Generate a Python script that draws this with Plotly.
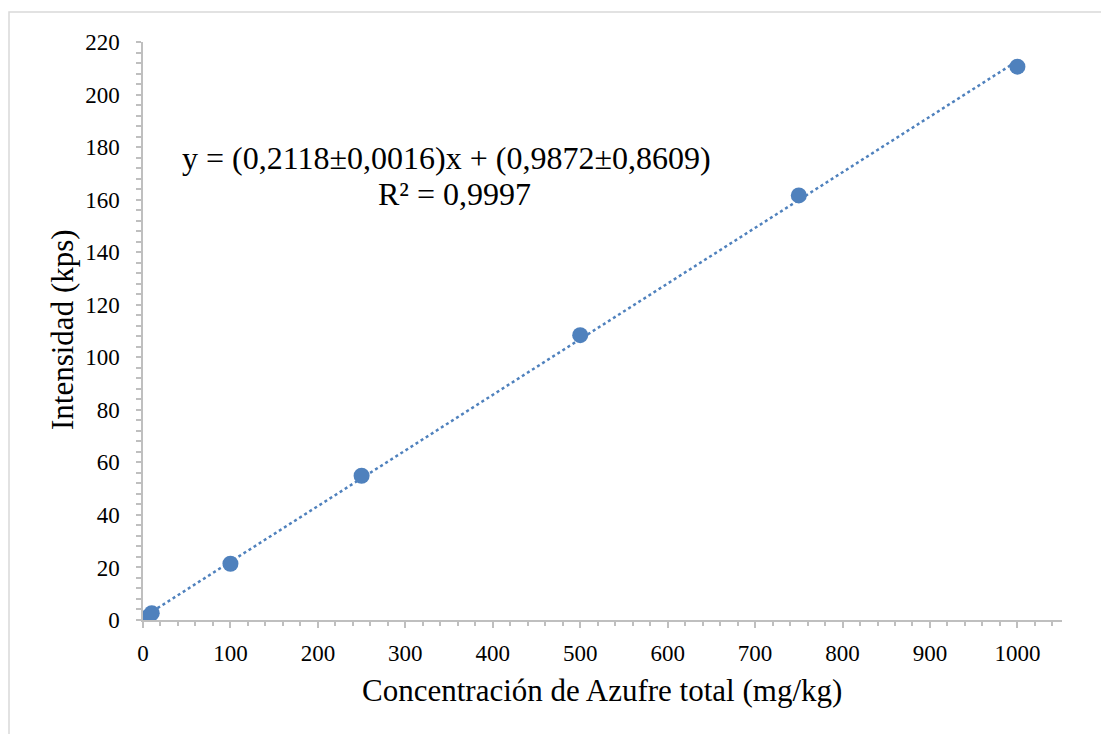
import plotly.graph_objects as go

# Data
conc = [5, 10, 100, 250, 500, 750, 1000]          # mg/kg
intensity = [1.0, 2.6, 21.4, 54.9, 108.4, 161.6, 210.6]  # kps

slope = 0.2118
intercept = 0.9872
eq_line1 = "y = (0,2118±0,0016)x + (0,9872±0,8609)"
eq_line2 = "R² = 0,9997"
x_title = "Concentración de Azufre total (mg/kg)"
y_title = "Intensidad (kps)"

x_ticks = [0, 100, 200, 300, 400, 500, 600, 700, 800, 900, 1000]
y_ticks = [0, 20, 40, 60, 80, 100, 120, 140, 160, 180, 200, 220]

BLUE = "#4F81BD"
AXIS = "#BFBFBF"
FONT = "Liberation Serif"

W, H = 1101, 734
ml, mr, mt, mb = 143, 39, 42, 114
pw, ph = W - ml - mr, H - mt - mb

def px_x(p):
    return (p - ml) / pw

def px_y(p):
    return (H - mb - p) / ph

trend_x = [min(conc), max(conc)]
trend_y = [slope * v + intercept for v in trend_x]

fig = go.Figure()
fig.add_trace(go.Scatter(
    x=trend_x, y=trend_y, mode="lines",
    line=dict(color=BLUE, width=2.5, dash="dot"),
    hoverinfo="skip", showlegend=False,
))
fig.add_trace(go.Scatter(
    x=conc, y=intensity, mode="markers",
    marker=dict(color=BLUE, size=16, line=dict(width=0)),
    showlegend=False,
))

tickfont = dict(size=23, family=FONT, color="black")

fig.update_layout(
    width=W, height=H,
    margin=dict(l=ml, r=mr, t=mt, b=mb, pad=0),
    paper_bgcolor="white", plot_bgcolor="white",
    font=dict(family=FONT, color="black", size=23),
    xaxis=dict(
        range=[0, 1051], tickmode="array", tickvals=x_ticks,
        ticktext=[str(v) for v in x_ticks],
        showgrid=False, zeroline=False,
        showline=True, linecolor=AXIS, linewidth=1.5,
        ticks="outside", ticklen=6, tickcolor=AXIS, tickwidth=1.5,
        minor=dict(dtick=20, ticks="outside", ticklen=4, tickcolor=AXIS, tickwidth=1.5, showgrid=False),
        tickfont=tickfont,
        ticklabelstandoff=6,
    ),
    yaxis=dict(
        range=[0, 220], tickmode="array", tickvals=y_ticks,
        ticktext=[str(v) for v in y_ticks],
        showgrid=False, zeroline=False,
        showline=True, linecolor=AXIS, linewidth=1.5,
        ticks="outside", ticklen=5, tickcolor=AXIS, tickwidth=1.5,
        minor=dict(dtick=4, ticks="outside", ticklen=5, tickcolor=AXIS, tickwidth=1.5, showgrid=False),
        tickfont=tickfont,
        ticklabelstandoff=12,
    ),
    shapes=[dict(
        type="rect", xref="paper", yref="paper",
        x0=px_x(9), x1=px_x(1120), y0=px_y(760), y1=px_y(12),
        line=dict(color="#D9D9D9", width=1.5), fillcolor="rgba(0,0,0,0)",
        layer="below",
    )],
    annotations=[
        dict(text=eq_line1, xref="paper", yref="paper", x=px_x(446), y=px_y(158),
             xanchor="center", yanchor="middle", showarrow=False,
             font=dict(size=32, family=FONT, color="black")),
        dict(text=eq_line2, xref="paper", yref="paper", x=px_x(454), y=px_y(194),
             xanchor="center", yanchor="middle", showarrow=False,
             font=dict(size=32, family=FONT, color="black")),
        dict(text=x_title, xref="paper", yref="paper", x=px_x(602), y=px_y(690),
             xanchor="center", yanchor="middle", showarrow=False,
             font=dict(size=31, family=FONT, color="black")),
        dict(text=y_title, xref="paper", yref="paper", x=px_x(62), y=px_y(330),
             xanchor="center", yanchor="middle", showarrow=False, textangle=-90,
             font=dict(size=31, family=FONT, color="black")),
    ],
)

fig.write_html("out.html")
